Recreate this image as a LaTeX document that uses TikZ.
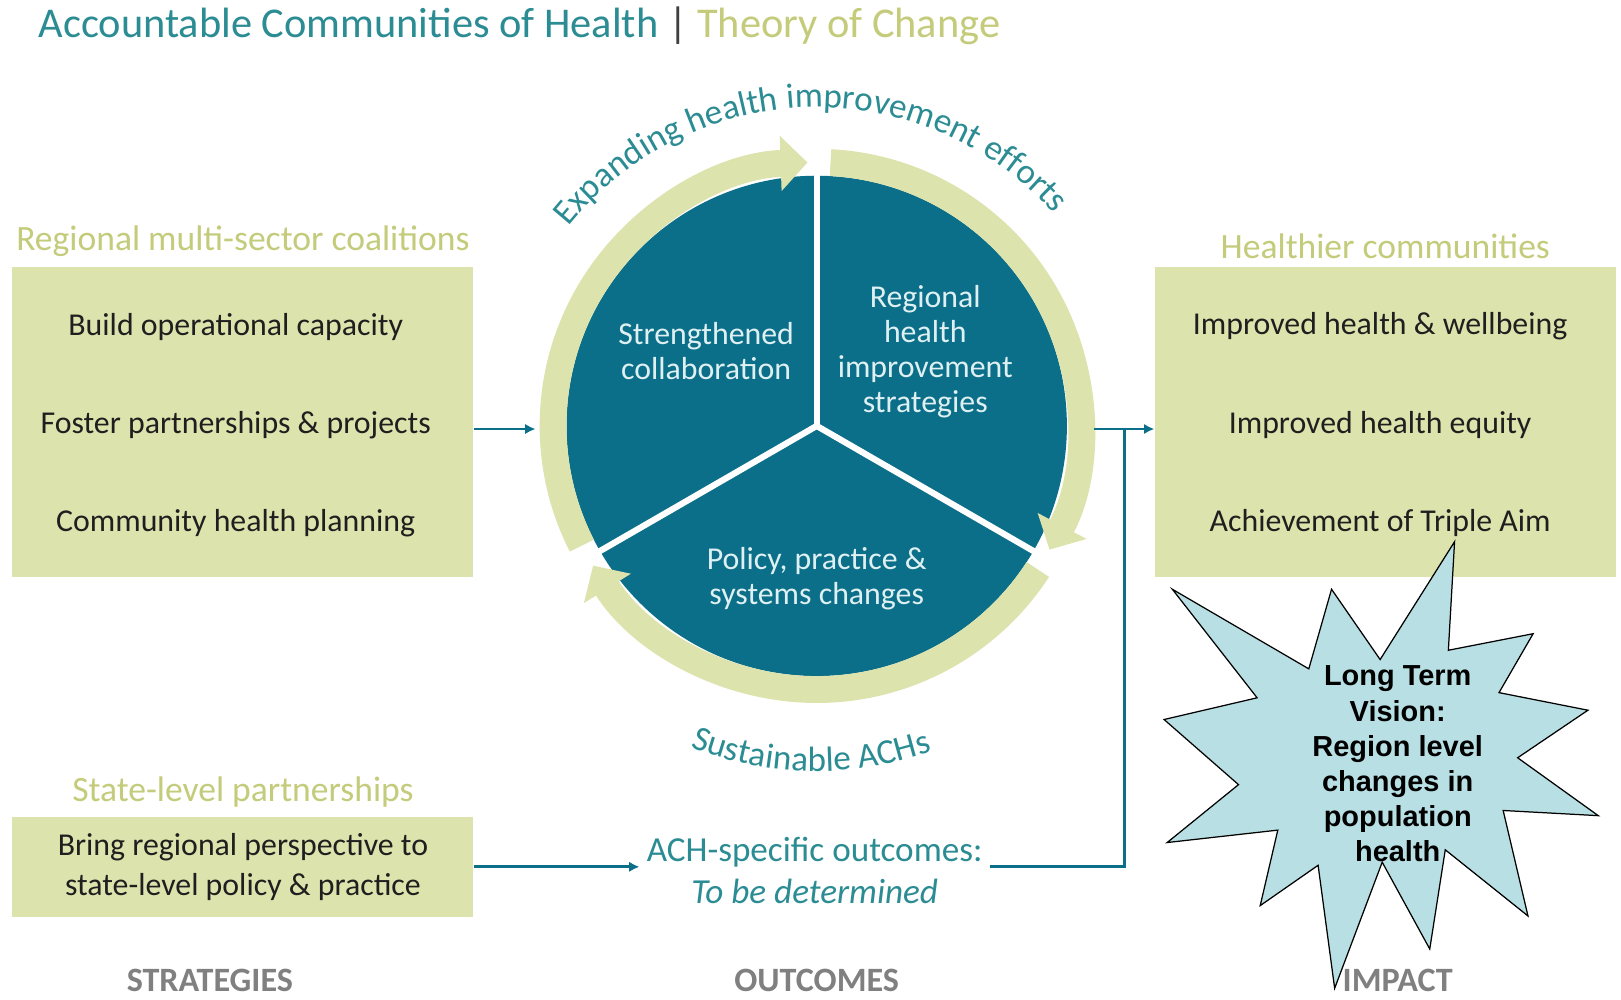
\documentclass[tikz,border=0pt]{standalone}
\usepackage{fontspec}
\setmainfont{Carlito}
\newfontfamily\arialfont{Liberation Sans}
\usepackage{tikz}
\usetikzlibrary{shapes, arrows.meta}
\usetikzlibrary{positioning, decorations.text}
\definecolor{achteal}{RGB}{12,111,138}
\definecolor{achtitle}{RGB}{43,140,147}
\definecolor{achgreen}{RGB}{221,227,172}
\definecolor{achhead}{RGB}{196,203,122}
\definecolor{achstar}{RGB}{184,223,227}
\definecolor{achgray}{RGB}{128,128,128}
\definecolor{achpale}{RGB}{222,240,241}
\tikzstyle{box} = [rectangle, fill = achgreen, minimum width = 223pt,
  text centered]
\tikzstyle{boxhead} = [font = \fontsize{17.2}{20}\selectfont, text = achhead]
\tikzstyle{boxitem} = [font = \fontsize{15.4}{18}\selectfont, text = black!88]
\tikzstyle{wedgetext} = [
  font = \fontsize{15.4}{17}\selectfont, text = achpale,
  align = center
]
\tikzstyle{ring} = [draw = achgreen, line width = 13pt,
  -{Triangle[length = 13pt, width = 26pt]}]
\tikzstyle{link} = [draw = achteal, line width = 1.3pt,
  -{Latex[length = 5pt, width = 5pt]}]
\tikzstyle{footlabel} = [font = \bfseries\fontsize{16.5}{20}\selectfont,
  text = achgray]
\begin{document}
\begin{tikzpicture}[x = 0.5pt, y = 0.5pt, node distance = 47.5pt]
      \fill [white] (0, 0) rectangle (1568, 967);
      \useasboundingbox (0, 0) rectangle (1568, 967);

      % title
      \node [anchor = base west, inner sep = 0,
        font = \fontsize{20.5}{24}\selectfont] (title) at (37, 931)
        {\textcolor{achtitle}{Accountable Communities of Health}
          \textcolor{darkgray}{|} \textcolor{achhead}{Theory of Change}};

      % strategies
      \node [box, minimum height = 150pt] (lbox) at (235, 559) {};
      \node [boxhead, above = 1pt of lbox] (lhead) {Regional multi-sector coalitions};
      \node [boxitem] (foster) at (228, 556) {Foster partnerships \& projects};
      \node [boxitem, above of = foster] (build) {Build operational capacity};
      \node [boxitem, below of = foster] (plan) {Community health planning};
      \node [box, minimum height = 48.5pt, align = center, text = black!88,
        font = \fontsize{15.4}{19.5}\selectfont] (sbox) at (235, 128.5)
        {Bring regional perspective to\\state-level policy \& practice};
      \node [boxhead, above = 1pt of sbox] (shead) {State-level partnerships};

      % impact
      \node [box, minimum height = 150pt] (rbox) at (1340, 559) {};
      \node [boxhead, above = 0pt of rbox] (rhead) {Healthier communities};
      \node [boxitem] (equity) at (1335, 556) {Improved health equity};
      \node [boxitem, above of = equity] (wellbeing) {Improved health \& wellbeing};
      \node [boxitem, below of = equity] (triple) {Achievement of Triple Aim};

      % outcomes
      \coordinate (c) at (790, 555);
      \fill [achteal] (c) circle (242);
      \foreach \s/\e in {207/92, 87/-28, -33/-148}
        \draw [ring] ([shift = {(\s:255)}]c) arc [start angle = \s,
          end angle = \e, radius = 255];
      \foreach \a in {90, -30, 210}
        \draw [white, line width = 3pt] (c) -- ++(\a:272);
      \node [wedgetext] (collab) at (683, 627) {Strengthened\\collaboration};
      \node [wedgetext] (regional) at (895, 627)
        {Regional\\health\\improvement\\strategies};
      \node [wedgetext] (policy) at (790, 407) {Policy, practice \&\\systems changes};
      \path [decorate, decoration = {text along path, text align = center,
          text = {|\fontsize{17}{20}\selectfont\color{achtitle}|Expanding health improvement efforts}}]
        ([shift = {(152:308)}]c) arc [start angle = 152, end angle = 31, radius = 308];
      \path [decorate, decoration = {text along path, text align = center,
          text = {|\fontsize{17}{20}\selectfont\color{achtitle}|Sustainable ACHs}}]
        ([shift = {(229:334)}]c) arc [start angle = 229, end angle = 309, radius = 334];
      \node [align = center, text = achtitle,
        font = \fontsize{17}{20.5}\selectfont] (outc) at (788, 125)
        {ACH-specific outcomes:\\\textit{To be determined}};

      % connectors
      \coordinate (ringin) at (518, 552);
      \coordinate (ringout) at (1058, 552);
      \coordinate (joint) at (1088, 552);
      \draw [link] (lbox.east |- ringin) -- (ringin);
      \draw [link] (ringout) -- (rbox.west |- ringout);
      \draw [link] (sbox.east) -- (sbox.east -| outc.west);
      \draw [link, -] (outc.east |- sbox.east) -| (joint);

      % footer
      \node [footlabel] (strat) at (203, 19) {STRATEGIES};
      \node [footlabel] (outlab) at (790, 19) {OUTCOMES};
      \node [footlabel] (impact) at (1352, 19) {IMPACT};

      % vision star
      \filldraw [fill = achstar, draw = black, line width = 0.6pt]
        (1407, 443) -- (1401, 338) -- (1483, 354) -- (1450, 297) --
        (1536, 280) -- (1468, 234) -- (1546, 178) -- (1454, 183) --
        (1478, 81) -- (1398, 145) -- (1383, 49) -- (1337, 133) --
        (1291, 11) -- (1275, 130) -- (1219, 91) -- (1236, 164) --
        (1129, 152) -- (1198, 208) -- (1126, 271) -- (1216, 292) --
        (1134, 397) -- (1266, 320) -- (1288, 397) -- (1335, 329) -- cycle;
      \node [align = center, font = \arialfont\bfseries\fontsize{14}{17}\selectfont]
        (vision) at (1352, 228)
        {Long Term\\Vision:\\Region level\\changes in\\population\\health};
\end{tikzpicture}
\end{document}
